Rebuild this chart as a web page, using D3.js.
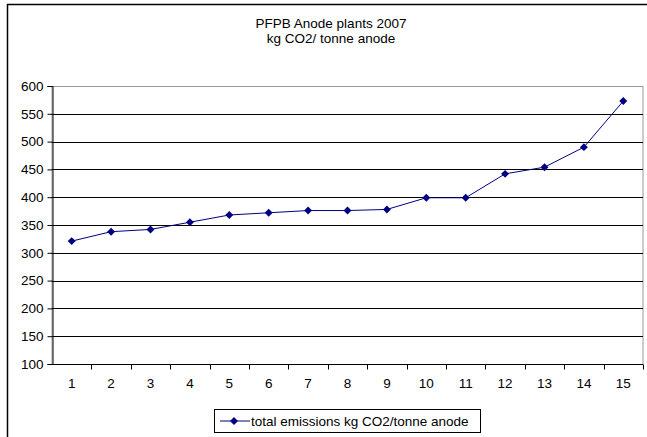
<!DOCTYPE html>
<html>
<head>
<meta charset="utf-8">
<script src="https://cdn.jsdelivr.net/npm/d3@7"></script>
<style>
  body { margin: 0; background: #fff; }
  text { font-family: "Liberation Sans", Arial, sans-serif; }
</style>
</head>
<body>
<script>
// data
var plants = [1, 2, 3, 4, 5, 6, 7, 8, 9, 10, 11, 12, 13, 14, 15];
var emissions = [321, 338, 342, 355, 368, 372, 376, 376, 378, 399, 399, 442, 454, 490, 573];
var yTicks = [100, 150, 200, 250, 300, 350, 400, 450, 500, 550, 600];
var titleLines = ["PFPB Anode plants 2007", "kg CO2/ tonne anode"];
var seriesName = "total emissions kg CO2/tonne anode";

var width = 647, height = 437;
var pLeft = 52, pTop = 86, pRight = 643, pBottom = 364;
var fs = 13.5;

var svg = d3.select("body").append("svg")
    .attr("width", width)
    .attr("height", height);

// outer chart border
svg.append("rect")
    .attr("x", 7.5).attr("y", 4.5)
    .attr("width", 660).attr("height", 460)
    .attr("fill", "#fff")
    .attr("stroke", "#000")
    .attr("stroke-width", 1.5);

// titel
svg.selectAll(".title").data(titleLines).enter()
    .append("text")
    .attr("x", 331)
    .attr("y", function(d, i) { return 28 + i * 15; })
    .attr("text-anchor", "middle")
    .attr("font-size", fs)
    .text(function(d) { return d; });

var xScale = d3.scaleBand()
    .domain(plants)
    .range([pLeft, pRight]);
var yScale = d3.scaleLinear()
    .domain([100, 600])
    .range([pBottom, pTop]);

// plot area border
svg.append("rect")
    .attr("x", pLeft).attr("y", pTop + 0.5)
    .attr("width", pRight - pLeft).attr("height", pBottom - pTop)
    .attr("fill", "#fff")
    .attr("stroke", "#999")
    .attr("stroke-width", 1);

// gridlines
svg.append("g").selectAll("line").data(yTicks.slice(1, -1)).enter()
    .append("line")
    .attr("x1", pLeft).attr("x2", pRight)
    .attr("y1", function(d) { return Math.round(yScale(d)) + 0.5; })
    .attr("y2", function(d) { return Math.round(yScale(d)) + 0.5; })
    .attr("stroke", "#000")
    .attr("stroke-width", 1);

// y axis
var yAxis = d3.axisLeft(yScale).tickValues(yTicks).tickSize(5).tickPadding(4);
var gy = svg.append("g")
    .attr("transform", "translate(" + (pLeft + 0.5) + ",0)")
    .call(yAxis);
gy.selectAll("text").attr("font-size", fs).attr("fill", "#000")
    .style("font-family", "'Liberation Sans', Arial, sans-serif");
gy.selectAll("line, path").attr("stroke", "#000");

// x axis, ticks between categories
var xAxis = d3.axisBottom(xScale).tickSize(0).tickPadding(14);
var gx = svg.append("g")
    .attr("transform", "translate(0," + (pBottom + 0.5) + ")")
    .call(xAxis);
gx.select(".domain").attr("d", "M" + pLeft + ",0H" + pRight).attr("stroke", "#000");
gx.selectAll("text").attr("font-size", fs).attr("fill", "#000")
    .style("font-family", "'Liberation Sans', Arial, sans-serif");
gx.selectAll(".sep").data(plants).enter()
    .append("line")
    .attr("x1", function(d) { return Math.round(xScale(d) + xScale.bandwidth()) + 0.5; })
    .attr("x2", function(d) { return Math.round(xScale(d) + xScale.bandwidth()) + 0.5; })
    .attr("y1", 0).attr("y2", 5)
    .attr("stroke", "#000");

// line + markers
var cx = function(d, i) { return xScale(plants[i]) + xScale.bandwidth() / 2; };
var line = d3.line()
    .x(cx)
    .y(function(d) { return yScale(d); });
svg.append("path")
    .datum(emissions)
    .attr("d", line)
    .attr("fill", "none")
    .attr("stroke", "#000080")
    .attr("stroke-width", 1);

var diamond = d3.symbol().type(d3.symbolDiamond2).size(40);
svg.selectAll(".pt").data(emissions).enter()
    .append("path")
    .attr("d", diamond)
    .attr("transform", function(d, i) { return "translate(" + cx(d, i) + "," + yScale(d) + ")"; })
    .attr("fill", "#000080");

// legend
var lg = svg.append("g");
lg.append("rect")
    .attr("x", 214.5).attr("y", 409.5)
    .attr("width", 266).attr("height", 23)
    .attr("fill", "#fff")
    .attr("stroke", "#000");
lg.append("line")
    .attr("x1", 220).attr("x2", 250)
    .attr("y1", 421).attr("y2", 421)
    .attr("stroke", "#000080");
lg.append("path")
    .attr("d", diamond)
    .attr("transform", "translate(234,421)")
    .attr("fill", "#000080");
lg.append("text")
    .attr("x", 251).attr("y", 426)
    .attr("font-size", fs)
    .text(seriesName);
</script>
</body>
</html>
